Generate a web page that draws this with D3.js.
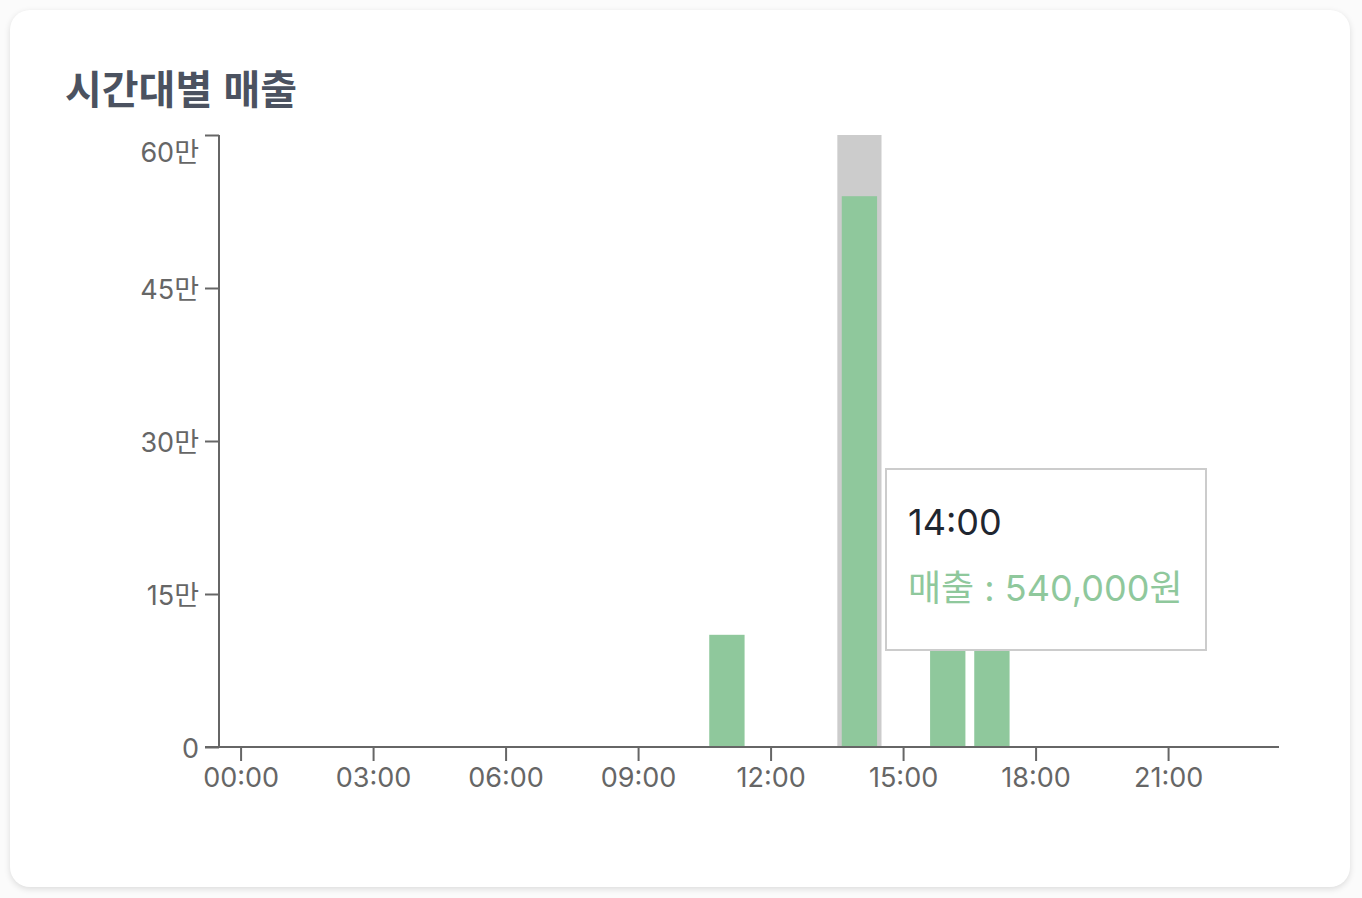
<!DOCTYPE html>
<html lang="ko">
<head>
    <meta charset="UTF-8">
    <title>시간대별 매출</title>
    <script src="https://d3js.org/d3.v7.min.js"></script>
    <style>
        body {
            margin: 0;
            background: #fbfbfb;
            font-family: Inter, "Noto Sans CJK KR", sans-serif;
        }
        .card {
            position: absolute;
            left: 10px;
            top: 10px;
            width: 1340px;
            height: 877px;
            background: #fff;
            border-radius: 20px;
            box-shadow: 0 2px 6px rgba(0, 0, 0, 0.13);
        }
        svg {
            position: absolute;
            left: 0;
            top: 0;
        }
        .axis path, .axis line {
            stroke: #666;
            stroke-width: 2;
        }
        .axis text {
            fill: #666;
            font-size: 27px;
            font-family: Inter, "Noto Sans CJK KR", sans-serif;
        }
    </style>
</head>
<body>
    <div class="card"></div>
    <svg width="1362" height="898"></svg>
    <script>
        // data
        var hours = d3.range(24).map(function (h) { return (h < 10 ? "0" : "") + h + ":00"; });
        var sales = [0, 0, 0, 0, 0, 0, 0, 0, 0, 0, 0, 110000, 0, 0, 540000, 0, 180000, 130000, 0, 0, 0, 0, 0, 0];
        var xTicks = ["00:00", "03:00", "06:00", "09:00", "12:00", "15:00", "18:00", "21:00"];
        var yTicks = [0, 150000, 300000, 450000, 600000];
        var activeHour = "14:00";

        var data = hours.map(function (h, i) { return {hour: h, value: sales[i]}; });

        var svg = d3.select("svg"),
            margin = {top: 135, right: 83, bottom: 151, left: 219},
            width = +svg.attr("width") - margin.left - margin.right,
            height = +svg.attr("height") - margin.top - margin.bottom;

        svg.append("text")
            .attr("x", 65)
            .attr("y", 104)
            .attr("fill", "#4b5260")
            .attr("font-size", "40px")
            .attr("font-weight", "bold")
            .attr("font-family", "'Noto Sans CJK KR', sans-serif")
            .text("시간대별 매출");

        var x = d3.scaleBand().domain(hours).range([0, width]).padding(0),
            y = d3.scaleLinear().domain([0, 600000]).range([height, 0]);

        var g = svg.append("g")
            .attr("transform", "translate(" + margin.left + "," + margin.top + ")");

        // hover cursor
        g.append("rect")
            .attr("x", x(activeHour))
            .attr("y", 0)
            .attr("width", x.bandwidth())
            .attr("height", height)
            .attr("fill", "#cccccc");

        g.selectAll(".bar")
            .data(data.filter(function (d) { return d.value > 0; }))
            .enter().append("rect")
            .attr("class", "bar")
            .attr("x", function (d) { return x(d.hour) + x.bandwidth() * 0.1; })
            .attr("y", function (d) { return y(d.value); })
            .attr("width", x.bandwidth() * 0.8)
            .attr("height", function (d) { return height - y(d.value); })
            .attr("fill", "#8fc89c");

        g.append("g")
            .attr("class", "axis axis--x")
            .attr("transform", "translate(0," + height + ")")
            .call(d3.axisBottom(x).tickValues(xTicks).tickSize(14).tickSizeOuter(0).tickPadding(7))
            .call(function (a) {
                a.select(".domain").attr("d", "M-14,0H" + width);
            });

        g.append("g")
            .attr("class", "axis axis--y")
            .call(d3.axisLeft(y).tickValues(yTicks).tickSize(14).tickSizeOuter(0).tickPadding(6)
                .tickFormat(function (d) { return d === 0 ? "0" : (d / 10000) + "만"; }))
            .call(function (a) {
                a.select(".domain").attr("d", "M0," + height + "V0");
                a.selectAll(".tick text")
                    .attr("dy", function (d) { return d === 600000 ? "0.98em" : "0.38em"; });
            });

        // tooltip
        var active = data.find(function (d) { return d.hour === activeHour; });
        var tip = svg.append("g").attr("transform", "translate(886,469)");
        tip.append("rect")
            .attr("width", 320)
            .attr("height", 181)
            .attr("fill", "#fff")
            .attr("stroke", "#cccccc")
            .attr("stroke-width", 2);
        tip.append("text")
            .attr("x", 22)
            .attr("y", 66)
            .attr("fill", "#1f2630")
            .attr("font-size", "36px")
            .text(active.hour);
        tip.append("text")
            .attr("x", 22)
            .attr("y", 132)
            .attr("fill", "#8fc89c")
            .attr("font-size", "36px")
            .text("매출 : " + d3.format(",")(active.value) + "원");
    </script>
</body>
</html>
